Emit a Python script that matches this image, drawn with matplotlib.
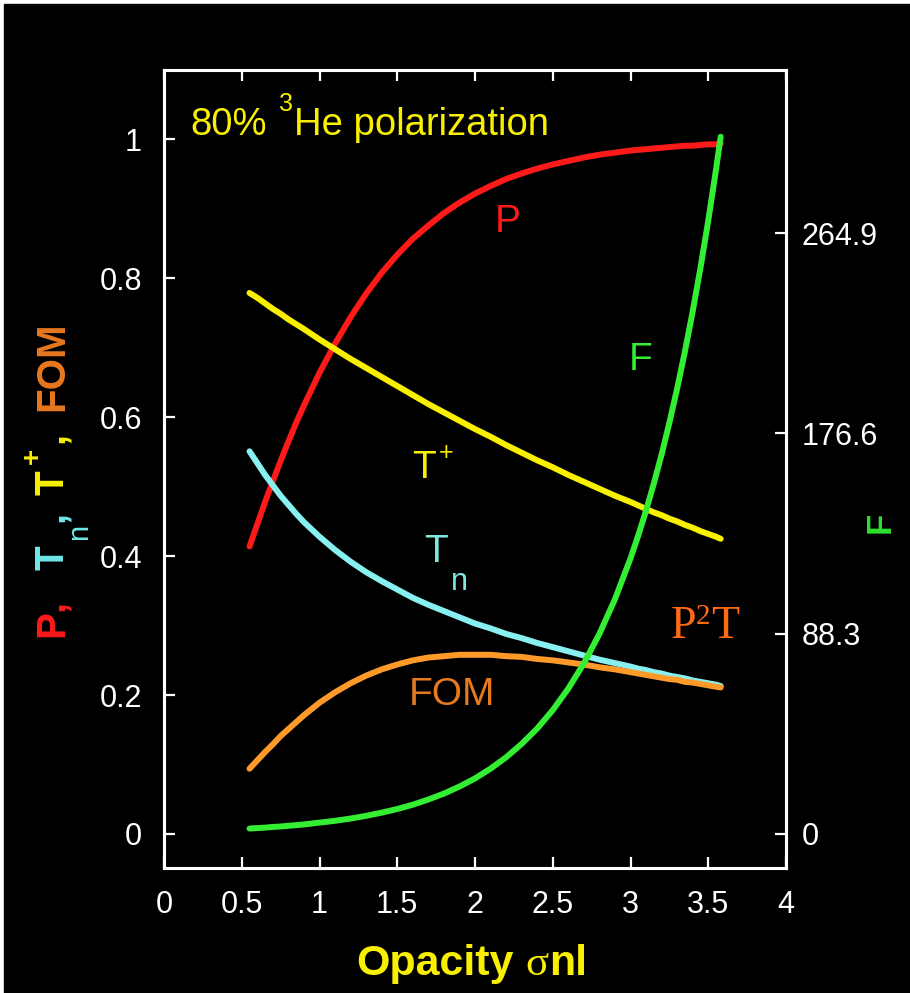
import matplotlib
matplotlib.use("Agg")
import matplotlib.pyplot as plt
from matplotlib.patches import Rectangle

plt.rcParams['font.family'] = ['Liberation Sans', 'DejaVu Sans']

# values
opacity = [0.55, 0.6, 0.65, 0.7, 0.75, 0.8, 0.85, 0.9, 1.0, 1.1, 1.2, 1.3, 1.4,
           1.5, 1.6, 1.7, 1.8, 1.9, 2.0, 2.1, 2.2, 2.3, 2.4, 2.5, 2.6, 2.7, 2.8,
           2.9, 3.0, 3.05, 3.1, 3.15, 3.2, 3.25, 3.3, 3.35, 3.4, 3.45, 3.5,
           3.55, 3.58]
pol = [0.414, 0.446, 0.478, 0.508, 0.537, 0.565, 0.592, 0.617, 0.664, 0.706,
       0.744, 0.778, 0.808, 0.834, 0.857, 0.876, 0.894, 0.909, 0.922, 0.933,
       0.943, 0.951, 0.958, 0.964, 0.969, 0.974, 0.978, 0.981, 0.984, 0.985,
       0.986, 0.987, 0.988, 0.989, 0.990, 0.991, 0.991, 0.992, 0.993, 0.993,
       0.994]
t_plus = [0.779, 0.772, 0.764, 0.756, 0.749, 0.741, 0.734, 0.727, 0.712, 0.698,
          0.684, 0.671, 0.658, 0.645, 0.632, 0.619, 0.607, 0.595, 0.583, 0.572,
          0.560, 0.549, 0.538, 0.528, 0.517, 0.507, 0.497, 0.487, 0.478, 0.473,
          0.468, 0.463, 0.459, 0.454, 0.450, 0.445, 0.441, 0.436, 0.432, 0.428,
          0.425]
t_n = [0.551, 0.534, 0.517, 0.502, 0.487, 0.474, 0.461, 0.449, 0.428, 0.409,
       0.392, 0.377, 0.364, 0.352, 0.340, 0.330, 0.321, 0.312, 0.303, 0.296,
       0.288, 0.282, 0.275, 0.269, 0.263, 0.257, 0.251, 0.246, 0.241, 0.238,
       0.236, 0.233, 0.231, 0.228, 0.226, 0.224, 0.221, 0.219, 0.217, 0.215,
       0.213]
fom = [0.094, 0.106, 0.118, 0.129, 0.141, 0.151, 0.161, 0.171, 0.189, 0.204,
       0.217, 0.228, 0.237, 0.244, 0.250, 0.254, 0.256, 0.258, 0.258, 0.258,
       0.256, 0.255, 0.252, 0.250, 0.247, 0.244, 0.240, 0.237, 0.233, 0.231,
       0.229, 0.227, 0.225, 0.223, 0.222, 0.219, 0.218, 0.216, 0.214, 0.212,
       0.211]
flip = [2.4, 2.6, 2.8, 3.1, 3.3, 3.6, 3.9, 4.2, 5.0, 5.8, 6.8, 8.0, 9.4, 11.0,
        12.9, 15.2, 17.8, 20.9, 24.5, 28.8, 33.8, 39.7, 46.5, 54.6, 64.1, 75.2,
        88.2, 103.5, 121.5, 131.6, 142.6, 154.5, 167.3, 181.3, 196.4, 212.7,
        230.4, 249.6, 270.4, 293.0, 307.4]

x_ticks = [0, 0.5, 1, 1.5, 2, 2.5, 3, 3.5, 4]
x_labels = ['0', '0.5', '1', '1.5', '2', '2.5', '3', '3.5', '4']
y_ticks = [0, 0.2, 0.4, 0.6, 0.8, 1.0]
y_labels = ['0', '0.2', '0.4', '0.6', '0.8', '1']
f_ticks = [0, 88.3, 176.6, 264.9]
f_labels = ['0', '88.3', '176.6', '264.9']

W, H = 910, 993
RED, YEL, CYAN, ORNG, GRN = '#ff1a1a', '#f8f000', '#88f0f0', '#ff9a2a', '#33ee33'


def px(x, y):
    return x / W, 1 - y / H


fig = plt.figure(figsize=(W / 100, H / 100), dpi=100)
fig.patch.set_facecolor('white')
fig.add_artist(Rectangle((4 / W, 0), 1, 1 - 4 / H, transform=fig.transFigure,
                         color='black', zorder=-10))

ax = fig.add_axes([164 / W, 125 / H, 622 / W, 798 / H])
ax.set_facecolor('black')
ax.set_xlim(0, 4)
ax.set_ylim(-0.049, 1.10)

lw = 4.3
ax.plot(opacity, pol, color=RED, lw=lw, solid_capstyle='round')
ax.plot(opacity, t_n, color=CYAN, lw=lw, solid_capstyle='round')
ax.plot(opacity, fom, color=ORNG, lw=lw, solid_capstyle='round')
ax.plot(opacity, t_plus, color=YEL, lw=lw, solid_capstyle='round')

ax.set_xticks(x_ticks, x_labels)
ax.set_yticks(y_ticks, y_labels)
ax.tick_params(direction='in', length=8, width=1.6, colors='white',
               labelsize=22, top=True, right=False, pad=16)

ax2 = ax.twinx()
ax2.set_ylim(-0.049 * 306.2, 1.10 * 306.2)
ax2.plot(opacity, flip, color=GRN, lw=lw, solid_capstyle='round')
ax2.set_yticks(f_ticks, f_labels)
ax2.tick_params(direction='in', length=8, width=1.6, colors='white',
                labelsize=22, pad=11)

for a in (ax, ax2):
    for sp in a.spines.values():
        sp.set_color('white')
        sp.set_linewidth(2.2)

# curve labels
fig.text(*px(190, 135), '80%', color=YEL, fontsize=27.5, va='baseline')
fig.text(*px(279, 111), '3', color=YEL, fontsize=18, va='baseline')
fig.text(*px(294, 135), 'He polarization', color=YEL, fontsize=27.5, va='baseline')
fig.text(*px(495, 232), 'P', color=RED, fontsize=28, va='baseline')
fig.text(*px(629, 370), 'F', color=GRN, fontsize=28, va='baseline')
fig.text(*px(412, 478), 'T', color=YEL, fontsize=28, va='baseline')
fig.text(*px(439, 460), '+', color=YEL, fontsize=18, va='baseline')
fig.text(*px(424, 562), 'T', color='#80e8dc', fontsize=28, va='baseline')
fig.text(*px(451, 590), 'n', color='#80e8dc', fontsize=22, va='baseline')
fig.text(*px(409, 705), 'FOM', color='#e87a1e', fontsize=28, va='baseline')
fig.text(*px(671, 638), 'P', color='#ff6a14', fontsize=33, va='baseline',
         family='Liberation Serif')
fig.text(*px(696, 624), '2', color='#ff6a14', fontsize=21, va='baseline',
         family='Liberation Serif')
fig.text(*px(711, 638), 'T', color='#ff6a14', fontsize=33, va='baseline',
         family='Liberation Serif')

# left axis label, one colour per quantity
rot = dict(rotation=90, rotation_mode='anchor', ha='left', va='baseline')
for x, y, s, c, size, wt in [(63, 637, 'P', RED, 29, 'bold'),
                              (63, 611, ',', RED, 29, 'bold'),
                              (63, 570, 'T', '#70e8e8', 29, 'bold'),
                              (87, 540, 'n', '#70e8e8', 21, 'normal'),
                              (63, 522, ',', '#70e8e8', 29, 'bold'),
                              (63, 495, 'T', YEL, 29, 'bold'),
                              (40, 464, '+', YEL, 20, 'bold'),
                              (63, 443, ',', YEL, 29, 'bold'),
                              (63, 411, 'FOM', '#e8781e', 29, 'bold')]:
    fig.text(*px(x, y), s, color=c, fontsize=size, fontweight=wt, **rot)

fig.text(*px(880, 522), 'F', color='#2ee02e', fontsize=25, fontweight='bold',
         rotation=90, ha='center', va='center')

# x axis label
r = fig.canvas.get_renderer()
x0 = 356
for s, kw, gap in [('Opacity', dict(fontweight='bold'), 12),
                   ('σ', dict(family='Liberation Serif'), 1),
                   ('nl', dict(fontweight='bold'), 0)]:
    t = fig.text(*px(x0, 975), s, color=YEL, va='baseline', fontsize=31, **kw)
    x0 += t.get_window_extent(r).width + gap

fig.savefig('out.png', dpi=100, facecolor=fig.get_facecolor())
